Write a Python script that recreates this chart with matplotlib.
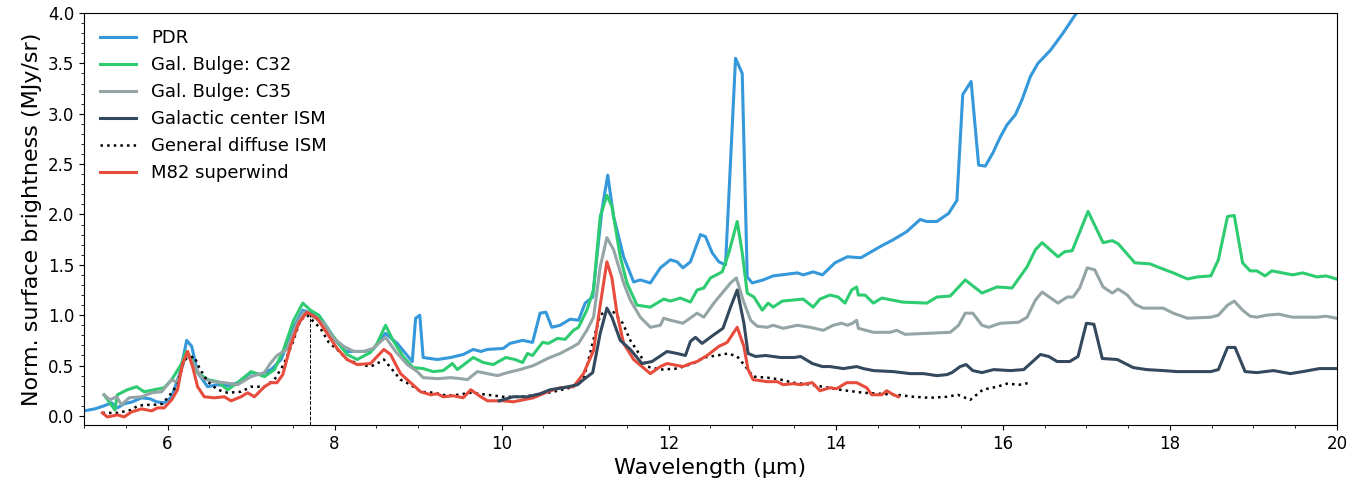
import matplotlib.pyplot as plt
import numpy as np
from matplotlib.ticker import MultipleLocator

# spectra (wavelength in micron, normalised brightness)
pdr_wave = [5.0, 5.13, 5.24, 5.33, 5.4, 5.48, 5.58, 5.69, 5.79, 5.87, 5.96, 6.05, 6.15, 6.23, 6.29, 6.36, 6.48, 6.6, 6.72, 6.84,
            7.0, 7.12, 7.24, 7.36, 7.45, 7.51, 7.62, 7.71, 7.81, 7.91, 8.01, 8.13, 8.35, 8.46, 8.61, 8.75, 8.93, 8.97, 9.02, 9.06,
            9.23, 9.39, 9.54, 9.66, 9.75, 9.83, 10.02, 10.1, 10.25, 10.37, 10.46, 10.53, 10.6, 10.7, 10.82, 10.92, 11.0, 11.09,
            11.14, 11.2, 11.27, 11.34, 11.46, 11.58, 11.66, 11.78, 11.9, 12.02, 12.1, 12.17, 12.26, 12.38, 12.44, 12.52, 12.6,
            12.68, 12.8, 12.88, 12.94, 13.0, 13.13, 13.25, 13.54, 13.61, 13.73, 13.84, 13.99, 14.14, 14.3, 14.53, 14.69, 14.85,
            15.01, 15.09, 15.21, 15.35, 15.45, 15.52, 15.62, 15.71, 15.79, 15.88, 15.97, 16.05, 16.15, 16.23, 16.33, 16.42,
            16.57, 16.72, 16.89, 17.05]
pdr_flux = [0.05, 0.07, 0.10, 0.13, 0.08, 0.12, 0.14, 0.18, 0.17, 0.14, 0.13, 0.19, 0.43, 0.75, 0.69, 0.43, 0.29, 0.31, 0.30, 0.33,
            0.43, 0.41, 0.46, 0.56, 0.75, 0.88, 1.05, 1.02, 1.00, 0.88, 0.75, 0.64, 0.64, 0.66, 0.82, 0.72, 0.54, 0.97, 1.00, 0.58,
            0.56, 0.58, 0.61, 0.66, 0.64, 0.66, 0.67, 0.72, 0.75, 0.73, 1.02, 1.03, 0.88, 0.90, 0.96, 0.95, 1.12, 1.18,
            1.58, 2.04, 2.39, 1.98, 1.58, 1.33, 1.35, 1.32, 1.47, 1.55, 1.53, 1.47, 1.53, 1.80, 1.78, 1.62, 1.53,
            1.50, 3.55, 3.40, 1.38, 1.32, 1.35, 1.39, 1.42, 1.40, 1.43, 1.40, 1.52, 1.58, 1.57, 1.68, 1.75, 1.83,
            1.95, 1.93, 1.93, 2.01, 2.14, 3.19, 3.32, 2.49, 2.48, 2.61, 2.77, 2.89, 2.99, 3.14, 3.37, 3.50,
            3.63, 3.80, 4.01, 4.20]

c32_wave = [5.24, 5.37, 5.4, 5.52, 5.63, 5.72, 5.84, 5.96, 6.05, 6.17, 6.22, 6.28, 6.36, 6.48, 6.6, 6.72, 6.84, 7.0, 7.16, 7.28,
            7.39, 7.51, 7.62, 7.71, 7.81, 7.93, 8.03, 8.15, 8.27, 8.43, 8.51, 8.61, 8.7, 8.82, 8.94, 9.06, 9.18, 9.3, 9.41, 9.47,
            9.66, 9.78, 9.9, 10.05, 10.16, 10.25, 10.31, 10.37, 10.49, 10.56, 10.67, 10.76, 10.86, 10.92, 11.02, 11.1, 11.18,
            11.26, 11.32, 11.42, 11.5, 11.62, 11.78, 11.94, 12.02, 12.14, 12.26, 12.34, 12.42, 12.5, 12.64, 12.72, 12.82, 12.88,
            12.94, 13.02, 13.12, 13.19, 13.25, 13.36, 13.61, 13.73, 13.81, 13.93, 14.03, 14.11, 14.19, 14.25, 14.27, 14.35,
            14.45, 14.55, 14.8, 15.09, 15.21, 15.37, 15.55, 15.75, 15.93, 16.11, 16.29, 16.39, 16.47, 16.66, 16.74, 16.83,
            17.02, 17.2, 17.31, 17.38, 17.58, 17.76, 17.88, 18.04, 18.21, 18.33, 18.49, 18.58, 18.69, 18.77, 18.87, 18.96,
            19.04, 19.14, 19.22, 19.47, 19.59, 19.76, 19.87, 19.99]
c32_flux = [0.21, 0.06, 0.21, 0.26, 0.29, 0.24, 0.26, 0.28, 0.36, 0.52, 0.64, 0.58, 0.43, 0.36, 0.34, 0.26, 0.33, 0.44, 0.39, 0.46,
            0.66, 0.95, 1.12, 1.05, 1.00, 0.85, 0.74, 0.61, 0.56, 0.63, 0.72, 0.90, 0.75, 0.59, 0.48, 0.47, 0.44, 0.45, 0.52, 0.46,
            0.58, 0.53, 0.51, 0.58, 0.56, 0.53, 0.62, 0.60, 0.73, 0.72, 0.77, 0.76, 0.85, 0.88, 1.05, 1.25, 1.98,
            2.19, 2.08, 1.58, 1.32, 1.10, 1.08, 1.16, 1.14, 1.17, 1.13, 1.25, 1.27, 1.37, 1.43, 1.62, 1.93, 1.62,
            1.22, 1.18, 1.05, 1.12, 1.08, 1.14, 1.16, 1.08, 1.16, 1.20, 1.18, 1.12, 1.25, 1.28, 1.20, 1.20,
            1.12, 1.17, 1.13, 1.12, 1.18, 1.19, 1.35, 1.22, 1.28, 1.27, 1.48, 1.65, 1.72, 1.58, 1.63, 1.64,
            2.03, 1.72, 1.74, 1.71, 1.52, 1.51, 1.47, 1.42, 1.36, 1.38, 1.39, 1.55, 1.98, 1.99, 1.52, 1.44,
            1.44, 1.39, 1.44, 1.40, 1.42, 1.38, 1.39, 1.36]

c35_wave = [5.24, 5.31, 5.39, 5.45, 5.54, 5.69, 5.81, 5.93, 6.05, 6.12, 6.2, 6.25, 6.32, 6.41, 6.53, 6.68, 6.84, 7.0, 7.16, 7.23,
            7.31, 7.43, 7.55, 7.63, 7.75, 7.87, 7.99, 8.11, 8.23, 8.35, 8.46, 8.61, 8.73, 8.87, 8.99, 9.06, 9.23, 9.39, 9.51,
            9.59, 9.71, 9.95, 10.07, 10.22, 10.38, 10.55, 10.7, 10.86, 10.92, 11.02, 11.1, 11.18, 11.26, 11.34, 11.46, 11.54,
            11.66, 11.78, 11.9, 11.94, 12.02, 12.17, 12.34, 12.42, 12.54, 12.64, 12.74, 12.81, 12.89, 12.98, 13.06, 13.18,
            13.25, 13.37, 13.54, 13.69, 13.85, 13.97, 14.07, 14.14, 14.2, 14.25, 14.27, 14.45, 14.65, 14.73, 14.83, 15.09,
            15.37, 15.47, 15.55, 15.64, 15.75, 15.83, 15.97, 16.19, 16.29, 16.39, 16.47, 16.66, 16.77, 16.84, 16.92, 17.01,
            17.1, 17.2, 17.31, 17.38, 17.49, 17.58, 17.68, 17.92, 18.04, 18.21, 18.49, 18.58, 18.69, 18.77, 18.87, 18.96,
            19.04, 19.16, 19.3, 19.47, 19.61, 19.76, 19.87, 19.99]
c35_flux = [0.21, 0.16, 0.19, 0.11, 0.18, 0.19, 0.23, 0.24, 0.36, 0.33, 0.55, 0.60, 0.50, 0.38, 0.34, 0.33, 0.31, 0.39, 0.43, 0.52,
            0.60, 0.66, 0.92, 1.03, 0.98, 0.92, 0.77, 0.69, 0.64, 0.64, 0.67, 0.78, 0.64, 0.51, 0.44, 0.38, 0.37, 0.38, 0.37,
            0.36, 0.44, 0.40, 0.43, 0.46, 0.50, 0.57, 0.62, 0.69, 0.72, 0.85, 0.98, 1.48, 1.77, 1.65, 1.32, 1.15,
            0.98, 0.88, 0.90, 0.97, 0.95, 0.92, 1.02, 0.98, 1.12, 1.22, 1.32, 1.37, 1.15, 0.95, 0.89, 0.88,
            0.90, 0.87, 0.90, 0.88, 0.85, 0.90, 0.92, 0.90, 0.92, 0.95, 0.87, 0.83, 0.83, 0.85, 0.81, 0.82,
            0.83, 0.90, 1.02, 1.02, 0.90, 0.88, 0.92, 0.93, 0.98, 1.15, 1.23, 1.12, 1.18, 1.18, 1.27, 1.47,
            1.45, 1.28, 1.22, 1.26, 1.20, 1.11, 1.07, 1.07, 1.02, 0.97, 0.98, 1.00, 1.10, 1.14, 1.05, 0.99,
            0.98, 1.00, 1.01, 0.98, 0.98, 0.98, 0.99, 0.97]

gc_wave = [9.97, 10.14, 10.31, 10.46, 10.58, 10.74, 10.91, 10.98, 11.09, 11.18, 11.26, 11.32, 11.42, 11.54, 11.68, 11.8, 11.98,
           12.1, 12.2, 12.26, 12.32, 12.4, 12.53, 12.65, 12.74, 12.82, 12.9, 12.95, 13.04, 13.16, 13.34, 13.5, 13.58, 13.72,
           13.84, 13.93, 14.09, 14.25, 14.33, 14.45, 14.69, 14.89, 15.05, 15.21, 15.33, 15.39, 15.49, 15.56, 15.64, 15.75,
           15.89, 16.09, 16.25, 16.45, 16.55, 16.65, 16.8, 16.9, 17.0, 17.09, 17.19, 17.37, 17.56, 17.72, 17.92, 18.09,
           18.28, 18.49, 18.58, 18.69, 18.78, 18.9, 19.04, 19.24, 19.44, 19.59, 19.79, 19.99]
gc_flux = [0.15, 0.19, 0.19, 0.22, 0.26, 0.28, 0.31, 0.36, 0.43, 0.82, 1.07, 0.98, 0.75, 0.66, 0.52, 0.54, 0.64,
           0.62, 0.60, 0.74, 0.78, 0.72, 0.80, 0.87, 1.08, 1.25, 0.92, 0.62, 0.59, 0.60, 0.58, 0.58, 0.59, 0.52,
           0.49, 0.49, 0.47, 0.49, 0.47, 0.45, 0.44, 0.42, 0.42, 0.40, 0.41, 0.43, 0.49, 0.51, 0.45, 0.43,
           0.46, 0.45, 0.46, 0.61, 0.59, 0.54, 0.54, 0.59, 0.92, 0.91, 0.57, 0.56, 0.48, 0.46, 0.45, 0.44,
           0.44, 0.44, 0.46, 0.68, 0.68, 0.44, 0.43, 0.45, 0.42, 0.44, 0.47, 0.47]

diffuse_wave = [5.22, 5.33, 5.4, 5.57, 5.64, 5.74, 5.84, 5.94, 6.03, 6.12, 6.2, 6.32, 6.38, 6.48, 6.6, 6.72, 6.88, 7.0, 7.16,
                7.28, 7.39, 7.5, 7.59, 7.67, 7.83, 7.93, 8.03, 8.15, 8.31, 8.43, 8.51, 8.59, 8.69, 8.79, 8.91, 9.03, 9.19,
                9.35, 9.47, 9.63, 9.83, 10.02, 10.22, 10.43, 10.62, 10.82, 10.98, 11.1, 11.18, 11.26, 11.34, 11.45, 11.54,
                11.66, 11.74, 11.9, 12.1, 12.29, 12.42, 12.58, 12.71, 12.82, 12.92, 13.01, 13.18, 13.34, 13.49, 13.7,
                14.05, 14.33, 14.53, 14.73, 14.93, 15.13, 15.33, 15.46, 15.61, 15.76, 15.93, 16.05, 16.2, 16.33]
diffuse_flux = [0.03, 0.03, 0.03, 0.06, 0.10, 0.11, 0.11, 0.12, 0.21, 0.31, 0.56, 0.59, 0.48, 0.34, 0.26, 0.23, 0.24, 0.29, 0.29,
                0.36, 0.51, 0.73, 0.95, 1.00, 0.87, 0.73, 0.66, 0.56, 0.51, 0.49, 0.52, 0.56, 0.46, 0.36, 0.31, 0.24, 0.23,
                0.20, 0.21, 0.23, 0.21, 0.19, 0.19, 0.21, 0.24, 0.28, 0.36, 0.76, 1.00, 1.05, 1.03, 0.92, 0.75,
                0.60, 0.49, 0.46, 0.47, 0.52, 0.58, 0.60, 0.62, 0.59, 0.49, 0.39, 0.38, 0.36, 0.33, 0.31,
                0.26, 0.23, 0.22, 0.21, 0.19, 0.18, 0.19, 0.21, 0.16, 0.26, 0.29, 0.32, 0.31, 0.33]

m82_wave = [5.22, 5.28, 5.4, 5.48, 5.57, 5.69, 5.81, 5.88, 5.96, 6.05, 6.12, 6.18, 6.24, 6.3, 6.36, 6.44, 6.56, 6.68, 6.76,
            6.88, 6.96, 7.04, 7.16, 7.24, 7.31, 7.38, 7.47, 7.57, 7.67, 7.79, 7.91, 8.03, 8.15, 8.27, 8.43, 8.51, 8.59, 8.67,
            8.79, 8.91, 9.03, 9.15, 9.23, 9.3, 9.42, 9.54, 9.63, 9.75, 9.83, 10.02, 10.14, 10.38, 10.55, 10.7, 10.86, 10.98,
            11.1, 11.18, 11.26, 11.32, 11.38, 11.46, 11.58, 11.68, 11.78, 11.9, 11.98, 12.17, 12.26, 12.34, 12.46, 12.6,
            12.7, 12.82, 12.9, 12.95, 13.01, 13.18, 13.3, 13.37, 13.49, 13.58, 13.72, 13.81, 13.93, 14.01, 14.13, 14.25,
            14.37, 14.43, 14.55, 14.61, 14.69, 14.75]
m82_flux = [0.03, -0.01, 0.01, -0.01, 0.04, 0.07, 0.05, 0.08, 0.08, 0.16, 0.26, 0.52, 0.64, 0.49, 0.29, 0.19, 0.18, 0.19, 0.15,
            0.19, 0.23, 0.19, 0.29, 0.33, 0.33, 0.41, 0.69, 0.92, 1.03, 0.97, 0.82, 0.67, 0.56, 0.51, 0.52, 0.59, 0.66, 0.61,
            0.42, 0.33, 0.24, 0.21, 0.22, 0.19, 0.20, 0.18, 0.26, 0.19, 0.15, 0.15, 0.14, 0.18, 0.24, 0.28, 0.29, 0.42,
            0.65, 1.10, 1.53, 1.37, 1.02, 0.72, 0.56, 0.49, 0.42, 0.49, 0.52, 0.49, 0.52, 0.54, 0.60, 0.69,
            0.73, 0.88, 0.69, 0.46, 0.36, 0.34, 0.34, 0.31, 0.32, 0.31, 0.33, 0.25, 0.28, 0.27, 0.33, 0.33,
            0.28, 0.21, 0.21, 0.25, 0.21, 0.19]

# normalisation wavelength
norm_wave = 7.7
norm_level = 1.0

fig, ax = plt.subplots(figsize=(13.7, 4.94), dpi=100)
plt.subplots_adjust(left=0.0613, right=0.9759, bottom=0.1397, top=0.9737)

lw = 2.2
ax.plot(pdr_wave, pdr_flux, color="#3498db", lw=lw, label="PDR")
ax.plot(c32_wave, c32_flux, color="#2ecc71", lw=lw, label="Gal. Bulge: C32")
ax.plot(c35_wave, c35_flux, color="#95a5a6", lw=lw, label="Gal. Bulge: C35")
ax.plot(gc_wave, gc_flux, color="#34495e", lw=lw, label="Galactic center ISM", zorder=3)
ax.plot(diffuse_wave, diffuse_flux, color="black", ls=":", lw=1.8, label="General diffuse ISM")
ax.plot(m82_wave, m82_flux, color="#e74c3c", lw=lw, label="M82 superwind")

ax.vlines(norm_wave, -0.09, norm_level, colors="black", linestyles="--", lw=0.7)

ax.set_xlim(5, 20)
ax.set_ylim(-0.09, 4.0)
ax.xaxis.set_minor_locator(MultipleLocator(0.5))
ax.yaxis.set_major_locator(MultipleLocator(0.5))
ax.yaxis.set_minor_locator(MultipleLocator(0.1))
ax.tick_params(labelsize=12)
ax.set_xlabel("Wavelength (µm)", fontsize=16)
ax.set_ylabel("Norm. surface brightness (MJy/sr)", fontsize=16)
ax.legend(loc="upper left", frameon=False, fontsize=13)

plt.savefig("out.png")
